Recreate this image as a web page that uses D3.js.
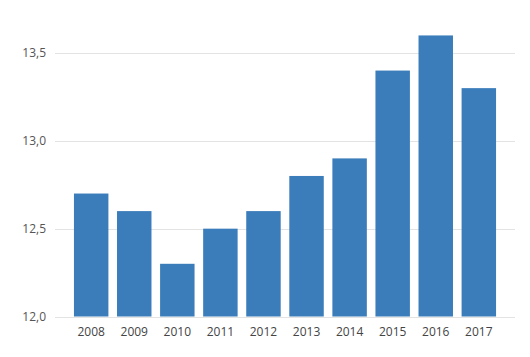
<!DOCTYPE html>
<html><head><meta charset="utf-8">
<script src="https://cdn.jsdelivr.net/npm/d3@7"></script>
<style>body{margin:0;background:#fff}svg{display:block}</style>
</head><body>
<svg id="c" width="530" height="357"></svg>
<script>
const categories = ["2008","2009","2010","2011","2012","2013","2014","2015","2016","2017"];
const values = [12.7, 12.6, 12.3, 12.5, 12.6, 12.8, 12.9, 13.4, 13.6, 13.3];
const yTicks = [12.0, 12.5, 13.0, 13.5];

const svg = d3.select("#c");
const x = d3.scaleBand().domain(categories).range([55, 515]).paddingInner(0.2).paddingOuter(0.44);
const y = d3.scaleLinear().domain([12, 13.5]).range([316.5, 53]);
const fmt = d => d3.format(".1f")(d).replace(".", ",");

// grid
svg.append("g").selectAll("line").data(yTicks).join("line")
  .attr("x1", 55).attr("x2", 515)
  .attr("y1", d => Math.round(y(d)) + 0.5).attr("y2", d => Math.round(y(d)) + 0.5)
  .attr("stroke", "#e3e3e3").attr("stroke-width", 1);

// y labels
svg.append("g").selectAll("text").data(yTicks).join("text")
  .attr("x", 46).attr("y", d => y(d)).attr("dy", "0.35em")
  .attr("text-anchor", "end")
  .attr("font-family", "Open Sans").attr("font-size", 12).attr("fill", "#555")
  .text(fmt);

// bars
svg.append("g").selectAll("rect").data(values).join("rect")
  .attr("x", (d, i) => x(categories[i])).attr("width", x.bandwidth())
  .attr("y", d => y(d)).attr("height", d => y(12) - y(d))
  .attr("fill", "#3a7dba");

// x labels
const xAxis = d3.axisBottom(x).tickSize(0).tickPadding(0);
const gx = svg.append("g").attr("transform", "translate(0,316.5)").call(xAxis);
gx.select(".domain").remove();
gx.selectAll("text").attr("dy", "0").attr("y", 19)
  .attr("font-family", "Open Sans").attr("font-size", 12).attr("fill", "#444");
</script>
</body></html>
